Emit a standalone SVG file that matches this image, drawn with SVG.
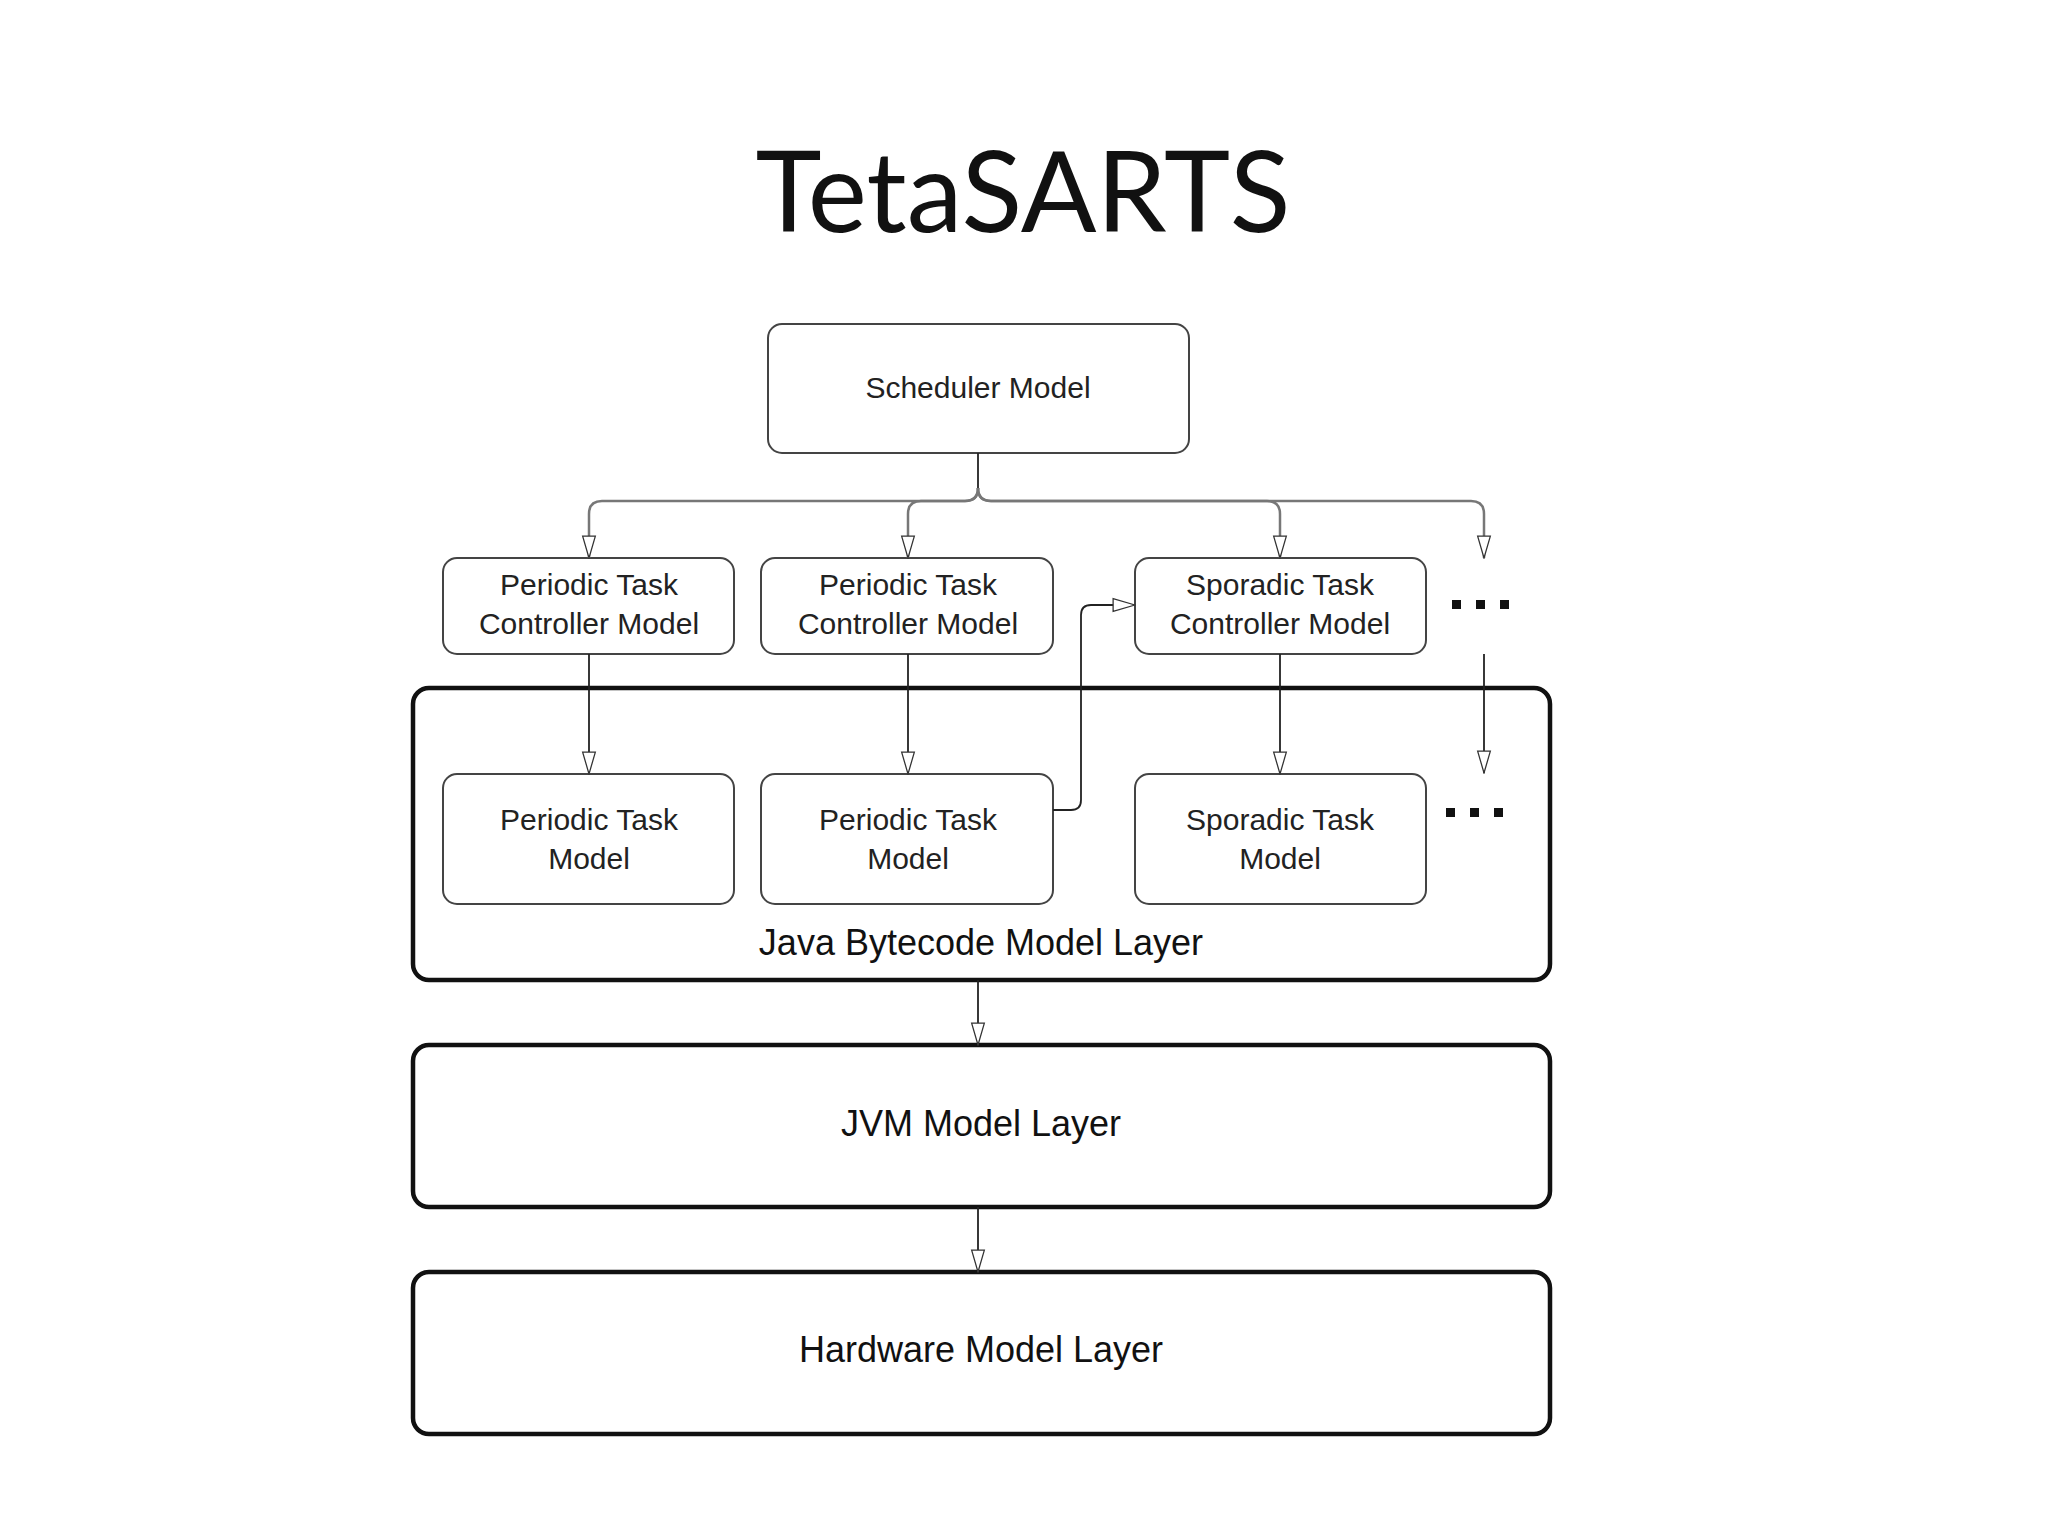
<svg xmlns="http://www.w3.org/2000/svg" width="2048" height="1536" viewBox="0 0 2048 1536">
<style>
.node{fill:#fff;stroke:#444;stroke-width:2}
.layer{fill:#fff;stroke:#111;stroke-width:4.5}
.t{font-family:"Liberation Sans",Arial,sans-serif;font-size:30px;fill:#222;text-anchor:middle}
.lt{font-family:"Liberation Sans",Arial,sans-serif;font-size:36px;fill:#111;text-anchor:middle}
.c{fill:none;stroke:#222;stroke-width:1.8}
.g{fill:none;stroke:#777;stroke-width:2.5}
</style>
<defs>
<marker id="ah" markerUnits="userSpaceOnUse" markerWidth="24" markerHeight="36" refX="32" refY="11" orient="auto" viewBox="0 0 34 22">
<path d="M1,2 L32,11 L1,20 Z" fill="#fff" stroke="#333" stroke-width="1.8"/>
</marker>
</defs>
<rect width="2048" height="1536" fill="#fff"/>
<text x="1023" y="232" font-family="Lato,'Open Sans',sans-serif" font-size="112" fill="#111" text-anchor="middle">TetaSARTS</text>
<g id="java-layer"><rect class="layer" x="413" y="688" width="1137" height="292" rx="16"/><text class="lt" x="981" y="955">Java Bytecode Model Layer</text></g>
<g id="jvm-layer"><rect class="layer" x="413" y="1045" width="1137" height="162" rx="16"/><text class="lt" x="981" y="1136">JVM Model Layer</text></g>
<g id="hw-layer"><rect class="layer" x="413" y="1272" width="1137" height="162" rx="16"/><text class="lt" x="981" y="1362">Hardware Model Layer</text></g>
<g id="scheduler"><rect class="node" x="768" y="324" width="421" height="129" rx="14"/><text class="t" x="978" y="398">Scheduler Model</text></g>
<g id="ptc1"><rect class="node" x="443" y="558" width="291" height="96" rx="14"/><text class="t" x="589" y="595">Periodic Task</text><text class="t" x="589" y="634">Controller Model</text></g>
<g id="ptc2"><rect class="node" x="761" y="558" width="292" height="96" rx="14"/><text class="t" x="908" y="595">Periodic Task</text><text class="t" x="908" y="634">Controller Model</text></g>
<g id="stc"><rect class="node" x="1135" y="558" width="291" height="96" rx="14"/><text class="t" x="1280" y="595">Sporadic Task</text><text class="t" x="1280" y="634">Controller Model</text></g>
<g id="ptm1"><rect class="node" x="443" y="774" width="291" height="130" rx="14"/><text class="t" x="589" y="830">Periodic Task</text><text class="t" x="589" y="869">Model</text></g>
<g id="ptm2"><rect class="node" x="761" y="774" width="292" height="130" rx="14"/><text class="t" x="908" y="830">Periodic Task</text><text class="t" x="908" y="869">Model</text></g>
<g id="stm"><rect class="node" x="1135" y="774" width="291" height="130" rx="14"/><text class="t" x="1280" y="830">Sporadic Task</text><text class="t" x="1280" y="869">Model</text></g>
<g id="dots1" fill="#111"><rect x="1452" y="600" width="9" height="9"/><rect x="1476" y="600" width="9" height="9"/><rect x="1500" y="600" width="9" height="9"/></g>
<g id="dots2" fill="#111"><rect x="1446" y="808" width="9" height="9"/><rect x="1470" y="808" width="9" height="9"/><rect x="1494" y="808" width="9" height="9"/></g>
<g id="connectors">
<path class="c" d="M978,453 V488"/>
<path class="g" d="M978,488 Q978,501 965,501 H602 Q589,501 589,514 V558" marker-end="url(#ah)"/>
<path class="g" d="M978,488 Q978,501 965,501 H921 Q908,501 908,514 V558" marker-end="url(#ah)"/>
<path class="g" d="M978,488 Q978,501 991,501 H1267 Q1280,501 1280,514 V558" marker-end="url(#ah)"/>
<path class="g" d="M978,488 Q978,501 991,501 H1471 Q1484,501 1484,514 V558" marker-end="url(#ah)"/>
<path class="c" d="M589,654 V774" marker-end="url(#ah)"/>
<path class="c" d="M908,654 V774" marker-end="url(#ah)"/>
<path class="c" d="M1280,654 V774" marker-end="url(#ah)"/>
<path class="c" d="M1484,654 V773" marker-end="url(#ah)"/>
<path class="c" d="M1053,810 H1071 Q1081,810 1081,800 V615 Q1081,605 1091,605 H1135" marker-end="url(#ah)"/>
<path class="c" d="M978,980 V1045" marker-end="url(#ah)"/>
<path class="c" d="M978,1207 V1272" marker-end="url(#ah)"/>
</g>
</svg>
